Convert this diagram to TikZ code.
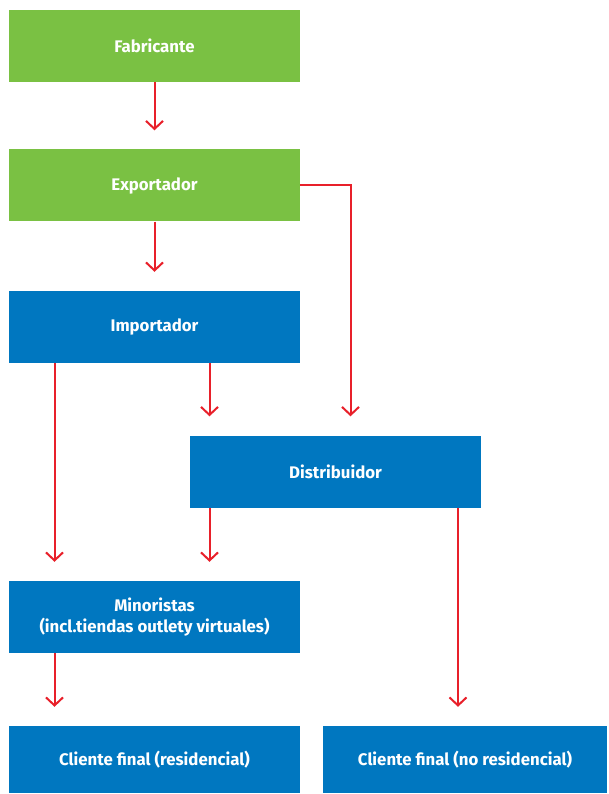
\documentclass[tikz,border=0pt]{standalone}
\usepackage{fontspec}
\setsansfont{Fira Sans}
\usetikzlibrary{arrows.meta, positioning, calc}
\definecolor{cgreen}{HTML}{7AC143}
\definecolor{cblue}{HTML}{0077C0}
\definecolor{cred}{HTML}{E8202A}
\tikzset{
  every picture/.style={font=\sffamily, x=1pt, y=-1pt},
  box/.style={fill=#1, text=white, align=center, inner sep=0pt, minimum width=291pt, minimum height=72pt, font=\sffamily\fontsize{16.8}{21}\selectfont\bfseries},
  box/.default=cblue,
  arrow/.style={-{Straight Barb[length=8pt, width=17pt]}, draw=cred, line width=2pt, shorten >=19pt},
}

\begin{document}
\begin{tikzpicture}
  \useasboundingbox (0,0) rectangle (608,794);

  % ---- boxes
  \node[box=cgreen] (fab) at (154.5,46) {Fabricante};
  \node[box=cgreen] (exp) at (154.5,185.5) {Exportador};
  \node[box] (imp) at (154.5,327) {Importador};
  \node[box] (dist) at (335.5,471.5) {Distribuidor};
  \node[box] (mino) at (154.5,617) {Minoristas\\(incl.tiendas outlety virtuales)};
  \node[box, minimum height=67pt] (res) at (154.5,759.5) {Cliente final (residencial)};
  \node[box, minimum width=284pt, minimum height=67pt] (nores) at (465,759.5) {Cliente final (no residencial)};

  % ---- connectors
  \draw[arrow] (fab) -- (exp);
  \draw[arrow] (exp) -- (imp);
  \draw[arrow] (exp.east) -| ([xshift=15pt]dist.north);
  \draw[arrow] ([xshift=55pt]imp.south) -- ([xshift=55pt]imp.south |- dist.north);
  \draw[arrow] ([xshift=-100pt]imp.south) -- ([xshift=-100pt]imp.south |- mino.north);
  \draw[arrow] ([xshift=55pt]imp.south |- dist.south) -- ([xshift=55pt]mino.north);
  \draw[arrow] ([xshift=-100pt]mino.south) -- ([xshift=-100pt]res.north);
  \draw[arrow] ([xshift=122.5pt]dist.south) -- ([xshift=122.5pt]dist.south |- nores.north);
\end{tikzpicture}
\end{document}
